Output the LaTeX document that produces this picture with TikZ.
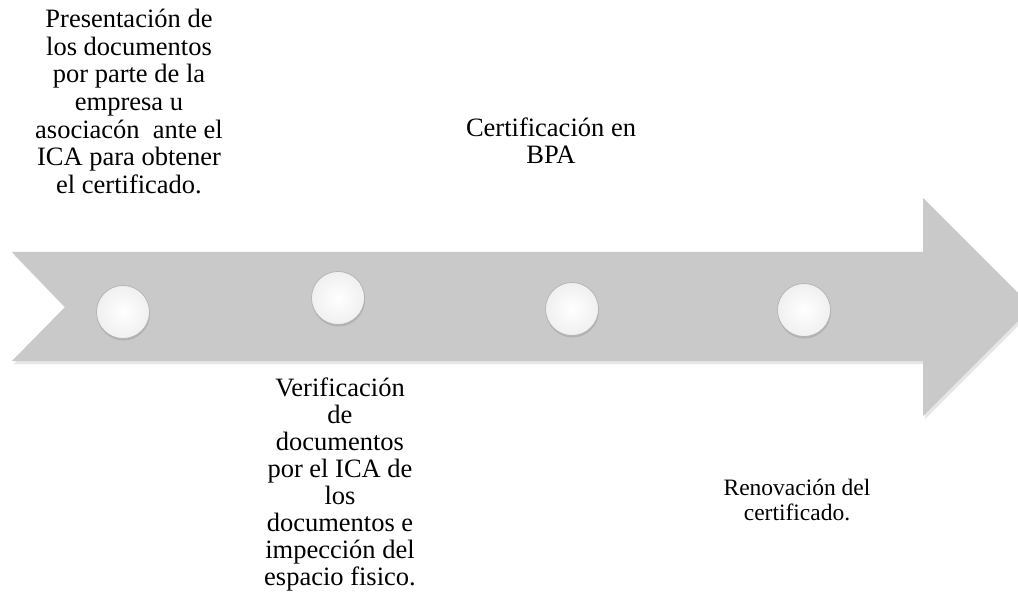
\documentclass[tikz,border=0pt]{standalone}
\usepackage{fontspec}
\setmainfont{Liberation Serif}
\usetikzlibrary{shadows}

\begin{document}
\begin{tikzpicture}[x=1pt,y=-1pt]
        \tikzset{every node/.style={inner sep=0pt}}
        \tikzset{etapa/.style={align=center,anchor=north,font=\fontsize{26.5}{27}\selectfont}}
        \tikzset{etapaalta/.style={etapa,font=\fontsize{26.5}{27.6}\selectfont}}
        \tikzset{etapachica/.style={align=center,anchor=north,font=\fontsize{23.5}{24.5}\selectfont}}
        \tikzset{boton/.style={circle,minimum size=53pt,draw=gray!60,line width=0.7pt,
                inner color=white,outer color=gray!12,
                drop shadow={opacity=0.3,shadow xshift=0.5pt,shadow yshift=-2pt}}}
        \clip (0,0) rectangle (1018,596);
        \useasboundingbox (0,0) rectangle (1018,596);
        % flecha
        \fill[gray!42,drop shadow={opacity=0.2,shadow xshift=2pt,shadow yshift=-3pt}]
          (12,252) -- (923,252) -- (923,198) -- (1032,307) -- (923,416)
          -- (923,361) -- (12,361) -- (65,307) -- cycle;
        % botones
        \node[boton] (b1) at (123,312) {};
        \node[boton] (b2) at (338,298) {};
        \node[boton] (b3) at (572,309) {};
        \node[boton] (b4) at (804,310) {};
        % textos
        \node[etapaalta] (pres) at (129,9) {Presentación de\\los documentos\\por parte de la\\empresa u\\asociacón~ ante el\\ICA para obtener\\el certificado.};
        \node[etapa] (verif) at (340,378) {Verificación\\de\\documentos\\por el ICA de\\los\\documentos e\\impección del\\espacio fisico.};
        \node[etapa] (cert) at (551,118) {Certificación en\\BPA};
        \node[etapachica] (renov) at (797,479) {Renovación del\\certificado.};
\end{tikzpicture}
\end{document}
